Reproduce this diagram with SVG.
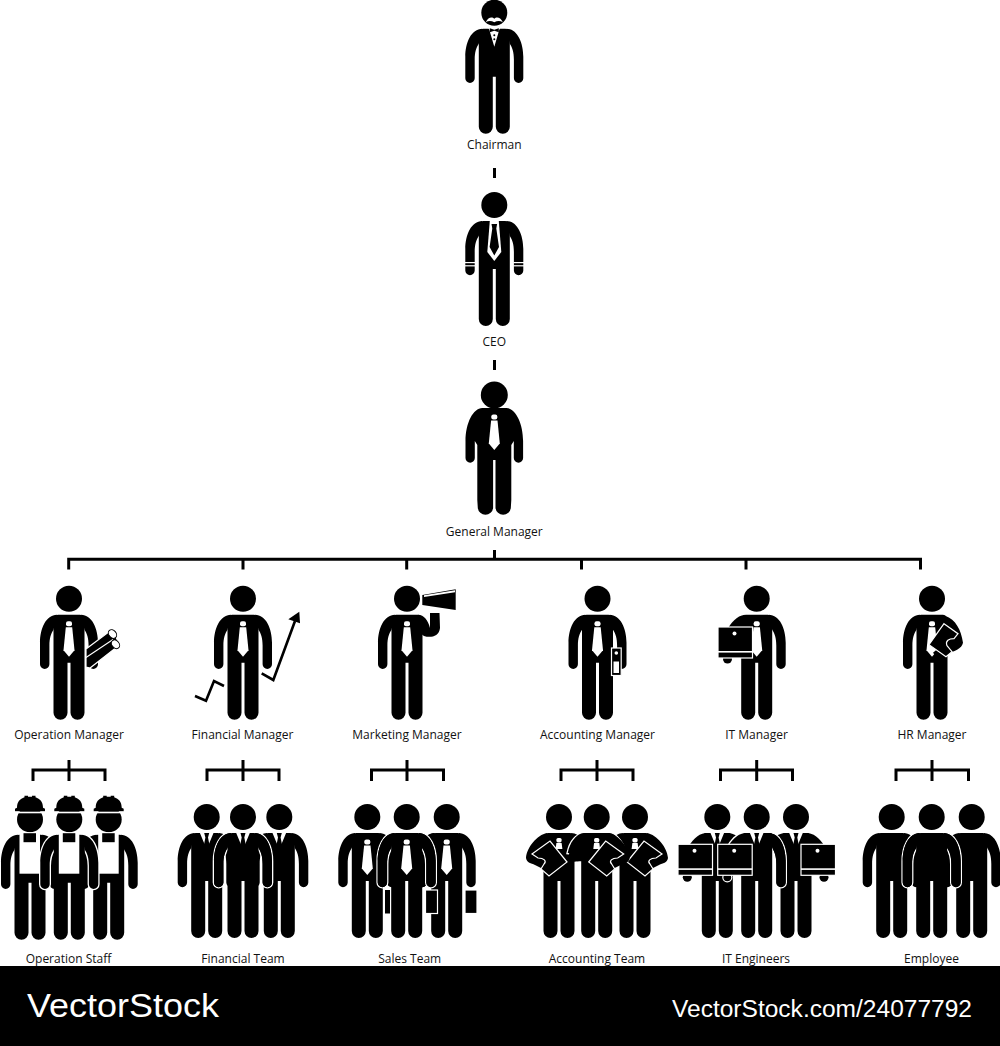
<svg xmlns="http://www.w3.org/2000/svg" width="1000" height="1046" viewBox="0 0 1000 1046">
<style>
text{font-family:"Open Sans","Noto Sans","Liberation Sans",sans-serif;font-size:12px;fill:#111;text-anchor:middle}
.w{fill:#fff}
.k{fill:#000}
.wl{fill:none;stroke:#fff;stroke-width:1.2}
.ko{fill:#000;stroke:#fff;stroke-width:1.2}
.end{fill:#fff;stroke:#000;stroke-width:1}
.front{stroke:#fff;stroke-width:2.6;paint-order:stroke}
.conn{fill:none;stroke:#000;stroke-width:3}
.line{fill:none;stroke:#000;stroke-width:2.6}
.brand{font-family:"Liberation Sans",sans-serif;fill:#fff;text-anchor:start}
</style>
<defs>
<circle id="head" r="13"/>
<path id="body" d="M-11 16H11Q15.500 16 15.500 24V114A7 7 0 0 1 1.500 114V64H-1.500V114A7 7 0 0 1-15.500 114V24Q-15.500 16-11 16Z"/>
<path id="armL" d="M-12 16C-23 16-29 30-29 44V65.500A4.700 4.700 0 0 0-19.600 65.500V47C-19.600 39-18 35-15.500 31Z"/>
<path id="armR" d="M12 16C23 16 29 30 29 44V65.500A4.700 4.700 0 0 1 19.600 65.500V47C19.600 39 18 35 15.500 31Z"/>
<g id="p"><use href="#head"/><use href="#body"/><use href="#armL"/><use href="#armR"/></g>
<g id="tie"><rect class="w" x="-3" y="22.500" width="6" height="5" rx="2"/><path class="w" d="M-3.200 28.500H3.200L5.500 51.500 0 58-5.500 51.500Z"/></g>
<g id="collar"><path class="w" d="M-7 15.500H7L1 30 0 24-1 30Z"/><path class="k" d="M-2.500 16H2.500L1.300 20.500 3 29 0 33-3 29-1.300 20.500Z"/></g>
<g id="worker">
<circle r="13" cy="0.700"/>
<path d="M-15-7.400V-10L-13-11C-13-17-10-20-5.500-21.500V-23H-2V-22H2V-23H5.500V-21.500C10-20 13-17 13-11L15-10V-7.400Z"/>
<rect class="w" x="-15" y="-7" width="30" height="1.600"/>
<use href="#body"/>
</g>
<g id="bib"><rect class="w" x="-10.500" y="13.500" width="20.500" height="41.500"/><rect class="k" x="-6.500" y="14.500" width="12.500" height="9"/></g>
<g id="laptop">
<rect class="ko" x="0" y="0" width="34.500" height="31"/>
<rect class="w" x="0" y="24" width="34.500" height="1.600"/>
<circle class="w" cx="16.500" cy="6.500" r="2"/>
</g>
<g id="folder">
<path d="M13 17C24 21 29 31 31 44C30 50 22 53 14 55L6 60 1 54 8 48 16 43 14 28Z"/>
<path class="ko" d="M12 25 26 35 22 40C17 40 13 42 15 47L20 53 14 58-3 46Z"/>
</g>
<g id="acc">
<use href="#head"/><use href="#body"/>
<path d="M-12 16C-22 16-27 28-27 41L-14 42-15.500 25Z"/>
<use href="#tiesmall"/>
<path d="M12 16C22 18 32 30 33 41C32 46 28 46 24 48L8 56 3 50 16 42 15 27Z"/>
<path d="M-12 17C-22 22-28 32-28 41C-22 46-10 44 3 46L4 40-10 37-17 36-15 27Z"/>
<path class="ko" d="M-8 45 9 24 27 37 21 41C15 41 12 44 15 47L18 52 10 59Z"/>
</g>
<g id="tiesmall"><rect class="w" x="-2.600" y="21" width="5.200" height="4.400" rx="1.600"/><path class="w" d="M-2.600 26H2.600L3.400 32H-3.400Z"/></g>
<g id="brief"><rect class="ko" width="12" height="23.500"/></g>
</defs>

<rect width="1000" height="1046" fill="#fff"/>

<g id="connectors">
<path class="conn" d="M494.500 168V178M494.500 360V370M494.500 550V559"/>
<path class="conn" d="M68.700 569.500V559.300H920.500V569.500M243 559V569.500M406.700 559V569.500M581.500 559V569.500M746 559V569.500"/>
<path class="conn" d="M33 781V770H105V781M69 760V781"/>
<path class="conn" d="M207 781V770H279V781M243 760V781"/>
<path class="conn" d="M371.500 781V770H443.500V781M407 760V781"/>
<path class="conn" d="M561 781V770H633V781M597 760V781"/>
<path class="conn" d="M720.500 781V770H792.500V781M756.700 760V781"/>
<path class="conn" d="M896 781V770H968.500V781M932 760V781"/>
</g>

<g id="chairman" transform="translate(494.300 12.700)">
<use href="#p"/>
<path class="w" d="M-6.500 14H6.500L5 17 0 34-5 17Z"/>
<path class="w" d="M-8.500 9.500C-6 4-2 4 0 6C2 4 6 4 8.500 9.500C6 8 3 8 0 9.500C-3 8-6 8-8.500 9.500Z"/>
<path d="M-4.500 15.500 0 17 4.500 15.500V19.500L0 18-4.500 19.500Z"/>
<circle cy="22.500" r="1"/><circle cy="26.500" r="1"/>
<text y="136.300">Chairman</text>
</g>

<g id="ceo" transform="translate(494.300 205)">
<use href="#p"/>
<path class="w" d="M-4.500 16H4.500L7 47 0 56-7 47Z"/>
<path d="M-2.800 19H2.800L2 23.500 4.700 42 0 50.500-4.700 42-2 23.500Z"/>
<rect class="w" x="-30" y="57" width="11" height="1.200"/><rect class="w" x="-30" y="60.200" width="11" height="1.200"/>
<rect class="w" x="19" y="57" width="11" height="1.200"/><rect class="w" x="19" y="60.200" width="11" height="1.200"/>
<text y="140.600">CEO</text>
</g>

<g id="general-manager" transform="translate(494.300 395)">
<circle r="13.500"/>
<path d="M-12 13C-21 13-28.800 28-28.800 46V63A4.500 4.500 0 0 0-19.500 63V46L-17 50-17 105-16.500 113A7.700 7.700 0 0 0-1.200 113V65H1.200V113A7.700 7.700 0 0 0 16.500 113L17 105V50L19.500 46V63A4.500 4.500 0 0 0 28.800 63V46C28.800 28 21 13 12 13Z"/>
<use href="#tie" transform="translate(0 -3)"/>
<text y="141">General Manager</text>
</g>

<g id="operation-manager">
<g transform="translate(69 598.700)"><use href="#p"/><use href="#tie"/></g>
<path class="ko" d="M86 649 110 631 116 637 119.500 645 90 668 86 667Z"/>
<path class="wl" d="M86 657.500 113 639.500"/>
<ellipse class="end" cx="112.500" cy="634" rx="3.600" ry="4.800" transform="rotate(-40 112.500 634)"/>
<ellipse class="end" cx="115.500" cy="644.300" rx="3.600" ry="4.800" transform="rotate(-40 115.500 644.300)"/>
<text x="69" y="739">Operation Manager</text>
</g>

<g id="financial-manager">
<g transform="translate(243 598.700)"><use href="#p"/><use href="#tie"/></g>
<path class="line" d="M195 696 206 700.700 214 681 224 686"/>
<path class="line" d="M261.700 673.300 273.300 680 295 621"/>
<path d="M299.300 611.700 288.300 619.300 300 623.300Z"/>
<text x="242.500" y="739">Financial Manager</text>
</g>

<g id="marketing-manager">
<g transform="translate(407 598.700)"><use href="#head"/><use href="#body"/><use href="#armL"/><use href="#tie"/></g>
<path d="M418 614.700C424 615 428 620 430 628L430 613H439.500L440 628C439 637 430 638 424 636 421 634 419 631 418 631Z"/>
<path class="w" d="M427 606H440V611.500H427Z"/>
<path class="k" d="M422.300 595 455.700 589.300V610L422.300 605Z"/>
<path class="w" d="M424 595.200 455 590.300V592.200L424 597Z"/>
<text x="407" y="739">Marketing Manager</text>
</g>

<g id="accounting-manager">
<g transform="translate(597.500 598.700)"><use href="#p"/><use href="#tie"/></g>
<rect class="ko" x="611.500" y="648" width="9.700" height="27.500"/>
<circle class="w" cx="616.300" cy="653" r="1.800"/>
<rect class="w" x="613.500" y="661.500" width="5.500" height="11.500"/>
<text x="597.500" y="739">Accounting Manager</text>
</g>

<g id="it-manager">
<g transform="translate(756.700 598.700)"><use href="#head"/><use href="#body"/><use href="#armR"/><use href="#tie"/>
<path d="M-12 16C-20 17-26 24-30 32H-12Z"/></g>
<circle cx="727.500" cy="659" r="4.500"/>
<use href="#laptop" transform="translate(718 627)"/>
<text x="756.500" y="739">IT Manager</text>
</g>

<g id="hr-manager">
<g transform="translate(932 598.700)"><use href="#head"/><use href="#body"/><use href="#armL"/><use href="#tie"/><use href="#folder"/></g>
<text x="932" y="739">HR Manager</text>
</g>

<g id="operation-staff">
<g transform="translate(30 818.700)"><use href="#worker"/><use href="#armL"/><use href="#armR"/><use href="#bib"/></g>
<g transform="translate(108.700 818.700)"><use href="#worker"/><use href="#armL"/><use href="#armR"/><use href="#bib"/></g>
<g transform="translate(69.300 818.700)"><g class="front"><use href="#armL"/><use href="#armR"/></g><use href="#worker"/><use href="#bib"/></g>
<text x="68.500" y="962.700">Operation Staff</text>
</g>

<g id="financial-team">
<g transform="translate(206.700 817)"><use href="#p"/><use href="#collar"/></g>
<g transform="translate(279.300 817)"><use href="#p"/><use href="#collar"/></g>
<g transform="translate(243 817)"><g class="front"><use href="#armL"/><use href="#armR"/></g><use href="#p"/><use href="#collar"/></g>
<text x="243" y="962.700">Financial Team</text>
</g>

<g id="sales-team">
<g transform="translate(367.300 817)"><use href="#p"/><use href="#tie"/></g>
<rect class="k" x="385" y="890" width="5" height="23.500"/>
<g transform="translate(446.700 817)"><g class="front"><use href="#armL"/></g><use href="#p"/><use href="#tie"/></g>
<use href="#brief" transform="translate(465 890)"/>
<g transform="translate(406.700 817)"><g class="front"><use href="#armL"/><use href="#armR"/></g><use href="#p"/><use href="#tie"/></g>
<use href="#brief" transform="translate(425.500 890)"/>
<text x="409.700" y="962.700">Sales Team</text>
</g>

<g id="accounting-team">
<g transform="translate(559 817) scale(-1 1)"><use href="#acc"/></g>
<g transform="translate(635 817)"><use href="#acc"/></g>
<g transform="translate(596.700 817)"><g class="front"><path d="M-12 16C-22 18-27 26-29 36L15 40 30 40C28 28 20 16 12 16Z"/></g><use href="#acc"/></g>
<text x="597" y="962.700">Accounting Team</text>
</g>

<g id="it-engineers">
<g transform="translate(717.300 817)"><use href="#head"/><use href="#body"/><path d="M-12 16C-20 17-26 24-30 32H28C24 24 20 17 12 16Z"/><use href="#collar"/></g>
<g transform="translate(796 817)"><use href="#head"/><use href="#body"/><path d="M-12 16C-20 17-26 24-30 32H30C26 24 20 17 12 16Z"/><use href="#collar"/></g>
<g transform="translate(756.700 817)"><g class="front"><use href="#armR"/><path d="M-12 16C-20 17-26 24-30 32H15V16Z"/></g><use href="#head"/><use href="#body"/><use href="#armR"/><use href="#collar"/></g>
<circle cx="687.300" cy="877.300" r="4.500"/><circle class="ko" cx="727.300" cy="877.300" r="4.500"/><circle cx="824" cy="877.300" r="4.500"/>
<use href="#laptop" transform="translate(678 844.300)"/>
<use href="#laptop" transform="translate(717.700 844.300)"/>
<use href="#laptop" transform="translate(801 844.300)"/>
<text x="756" y="962.700">IT Engineers</text>
</g>

<g id="employee">
<use href="#p" transform="translate(891.700 817)"/>
<use href="#p" transform="translate(971.700 817)"/>
<g transform="translate(931.700 817)"><g class="front"><use href="#armL"/><use href="#armR"/></g><use href="#p"/></g>
<text x="931.500" y="962.700">Employee</text>
</g>

<g id="footer">
<rect y="966" width="1000" height="80" fill="#000"/>
<text class="brand" x="27" y="1017" style="font-size:33px" textLength="192" lengthAdjust="spacingAndGlyphs">VectorStock</text>
<text class="brand" x="672" y="1016.500" style="font-size:23px" textLength="300" lengthAdjust="spacingAndGlyphs">VectorStock.com/24077792</text>
</g>
</svg>
